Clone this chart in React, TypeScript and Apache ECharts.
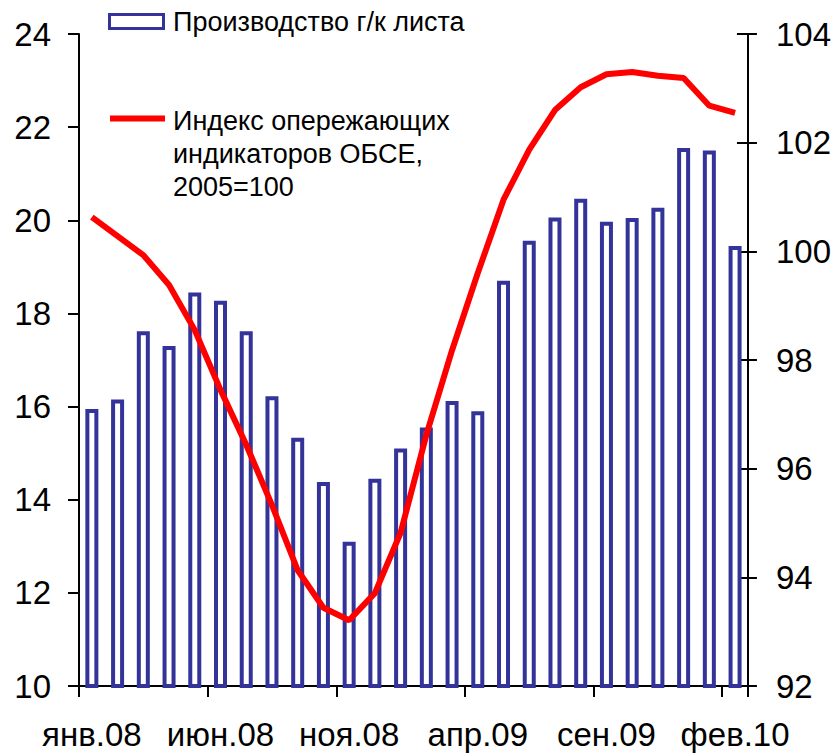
import React, { useEffect, useRef } from "react";
import * as echarts from "echarts";

const categories = [
  "янв.08", "фев.08", "мар.08", "апр.08", "май.08", "июн.08", "июл.08", "авг.08", "сен.08", "окт.08", "ноя.08", "дек.08",
  "янв.09", "фев.09", "мар.09", "апр.09", "май.09", "июн.09", "июл.09", "авг.09", "сен.09", "окт.09", "ноя.09", "дек.09",
  "янв.10", "фев.10",
];

const production = [
  15.95, 16.15, 17.62, 17.3, 18.45, 18.27, 17.62, 16.22, 15.33, 14.38, 13.1, 14.45,
  15.1, 15.55, 16.12, 15.9, 18.7, 19.56, 20.06, 20.46, 19.97, 20.05, 20.27, 21.55,
  21.5, 19.45,
];

const leadingIndex = [
  100.63, 100.28, 99.93, 99.38, 98.55, 97.45, 96.44, 95.33, 94.13, 93.44, 93.21, 93.71,
  94.82, 96.62, 98.18, 99.6, 100.95, 101.87, 102.6, 103.02, 103.26, 103.3, 103.23, 103.19,
  102.68, 102.55,
];

const productionName = "Производство г/к листа";
const indexNameLines = ["Индекс опережающих", "индикаторов ОБСЕ,", "2005=100"];

const leftAxis = { min: 10, max: 24, interval: 2 };
const rightAxis = { min: 92, max: 104, interval: 2 };

const FONT = "'Liberation Sans', Arial, sans-serif";

export default function App() {
  const ref = useRef<HTMLDivElement>(null);

  useEffect(() => {
    if (!ref.current) return;
    const chart = echarts.init(ref.current, null, { renderer: "svg" });
    const axisLineStyle = { color: "#000", width: 2 };
    chart.setOption({
      animation: false,
      backgroundColor: "#fff",
      textStyle: { fontFamily: FONT },
      grid: { left: 79, right: 86, top: 34, bottom: 67, containLabel: false },
      xAxis: {
        type: "category",
        data: categories,
        boundaryGap: true,
        axisLine: { show: true, lineStyle: axisLineStyle },
        axisTick: { show: true, interval: 4, length: 11, lineStyle: axisLineStyle },
        axisLabel: { interval: 4, fontSize: 33, color: "#000", margin: 32, fontFamily: FONT },
        splitLine: { show: false },
      },
      yAxis: [
        {
          type: "value",
          position: "left",
          ...leftAxis,
          axisLine: { show: true, lineStyle: axisLineStyle },
          axisTick: { show: true, length: 11, lineStyle: axisLineStyle },
          axisLabel: { fontSize: 33, color: "#000", margin: 28, fontFamily: FONT },
          splitLine: { show: false },
        },
        {
          type: "value",
          position: "right",
          ...rightAxis,
          axisLine: { show: true, lineStyle: axisLineStyle },
          axisTick: { show: true, length: 9, lineStyle: axisLineStyle },
          axisLabel: { fontSize: 33, color: "#000", margin: 28, fontFamily: FONT },
          splitLine: { show: false },
        },
        {
          type: "value",
          position: "right",
          ...rightAxis,
          axisLine: { show: false },
          axisTick: { show: true, inside: true, length: 11, lineStyle: axisLineStyle },
          axisLabel: { show: false },
          splitLine: { show: false },
        },
      ],
      series: [
        {
          name: productionName,
          type: "bar",
          data: production,
          yAxisIndex: 0,
          barWidth: 13,
          itemStyle: { color: "#fff", borderColor: "#333399", borderWidth: 4 },
          z: 2,
        },
        {
          name: indexNameLines.join(" "),
          type: "line",
          data: leadingIndex,
          yAxisIndex: 1,
          symbol: "none",
          lineStyle: { color: "#ff0000", width: 6 },
          z: 3,
        },
      ],
      graphic: [
        {
          type: "rect",
          shape: { x: 109.5, y: 14.5, width: 54, height: 14 },
          style: { fill: "#fff", stroke: "#333399", lineWidth: 3 },
        },
        {
          type: "text",
          x: 173,
          y: 22,
          style: { text: productionName, fontSize: 27, fontFamily: FONT, fill: "#000", verticalAlign: "middle" },
        },
        {
          type: "line",
          shape: { x1: 110, y1: 118.5, x2: 165, y2: 118.5 },
          style: { stroke: "#ff0000", lineWidth: 6 },
        },
        {
          type: "text",
          x: 173,
          y: 104,
          style: {
            text: indexNameLines.join("\n"),
            fontSize: 27,
            lineHeight: 33,
            fontFamily: FONT,
            fill: "#000",
            verticalAlign: "top",
          },
        },
      ],
    });
    return () => chart.dispose();
  }, []);

  return (
    <div
      ref={ref}
      style={{ position: "fixed", left: 0, top: 0, width: 834, height: 753, background: "#fff" }}
    />
  );
}
